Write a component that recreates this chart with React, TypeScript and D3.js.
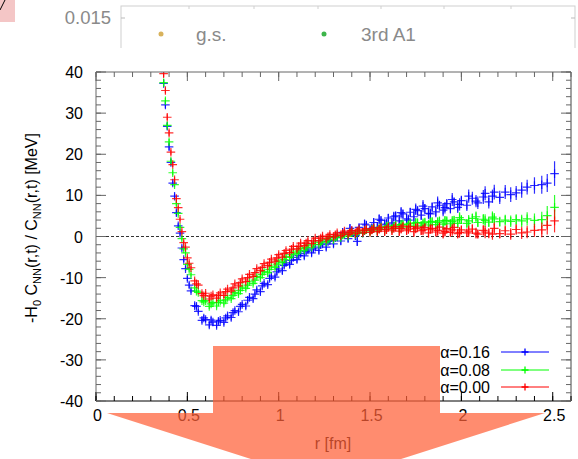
import React from "react";
import * as d3 from "d3";

const W = 578;
const H = 459;

// separation r [fm], first group of lattice points
const rValues = [
  0.36, 0.37, 0.38, 0.39, 0.40, 0.41, 0.42, 0.43, 0.44, 0.45,
  0.46, 0.47, 0.48, 0.49, 0.50, 0.52, 0.54, 0.56, 0.58, 0.60,
  0.62, 0.64, 0.66, 0.68, 0.70, 0.72, 0.74, 0.76, 0.78, 0.80,
  0.82, 0.84, 0.86, 0.88, 0.90, 0.92, 0.94, 0.96, 0.98, 1.00,
  1.02, 1.04, 1.06, 1.08, 1.10, 1.12, 1.14, 1.16, 1.18, 1.20,
  1.22, 1.24, 1.26, 1.28, 1.30, 1.32, 1.34, 1.36, 1.38, 1.40,
  1.42, 1.44, 1.46, 1.48, 1.50, 1.52, 1.54, 1.56, 1.58, 1.60,
  1.62, 1.64, 1.66, 1.68, 1.70, 1.72, 1.74, 1.76, 1.78, 1.80,
  1.82, 1.84, 1.86, 1.88, 1.90, 1.92, 1.94, 1.96, 1.98, 2.00,
  2.03, 2.06, 2.09, 2.12, 2.15, 2.18, 2.21, 2.24, 2.27, 2.30,
  2.33, 2.36, 2.40, 2.44, 2.47, 2.51,
];

// alpha = 0.16 (blue)
const alpha016 = [
  41.0, 37.2, 32.0, 26.8, 21.8, 18.0, 13.0, 9.8, 5.8, 2.6,
  0.8, -2.8, -5.6, -7.8, -10.2, -13.2, -16.8, -18.2, -20.4, -20.2,
  -21.5, -20.8, -21.6, -20.4, -20.9, -19.3, -19.7, -18.0, -18.3, -16.5,
  -16.9, -14.8, -15.1, -13.0, -13.4, -11.4, -11.7, -9.6, -9.9, -7.9,
  -8.3, -6.4, -6.8, -5.1, -5.6, -4.1, -4.7, -3.3, -4.0, -2.6,
  -3.4, -1.8, -2.6, -1.0, -1.8, -0.2, -1.1, 0.6, -0.5, 1.4,
  0.2, 2.2, 0.9, 2.8, 1.6, 3.4, 2.2, 3.9, 2.8, 4.5,
  3.3, 5.0, 3.8, 5.5, 4.3, 5.9, 4.8, 6.3, 5.2, 6.8,
  5.6, 7.2, 6.0, 7.6, 6.4, 8.0, 6.8, 8.4, 7.1, 8.7,
  7.6, 9.3, 8.2, 9.6, 8.4, 10.8, 9.5, 10.8, 10.2, 10.6,
  11.3, 12.0, 12.4, 12.6, 13.0, 15.3,
];
const alpha016Err = [
  0.9, 0.9, 0.8, 0.8, 0.8, 0.7, 0.7, 0.7, 0.7, 0.6,
  0.6, 0.6, 0.6, 0.6, 0.6, 0.6, 0.7, 0.6, 0.7, 0.6,
  0.7, 0.6, 0.7, 0.6, 0.7, 0.6, 0.7, 0.6, 0.7, 0.6,
  0.7, 0.6, 0.7, 0.6, 0.7, 0.6, 0.7, 0.6, 0.7, 0.7,
  0.8, 0.7, 0.8, 0.7, 0.8, 0.7, 0.8, 0.7, 0.8, 0.7,
  0.8, 0.7, 0.8, 0.7, 0.8, 0.8, 0.9, 0.8, 0.9, 0.8,
  1.0, 0.9, 1.1, 0.9, 1.0, 1.1, 1.3, 1.0, 1.4, 1.0,
  1.2, 1.1, 1.4, 1.0, 1.2, 1.1, 1.5, 1.0, 1.2, 1.1,
  1.4, 1.0, 1.3, 1.1, 1.5, 1.0, 1.2, 1.1, 1.4, 1.2,
  1.4, 1.6, 1.5, 1.7, 1.6, 1.8, 1.6, 1.7, 1.8, 1.7,
  1.9, 1.8, 2.0, 2.2, 2.2, 3.0,
];

// alpha = 0.08 (green)
const alpha008 = [
  42.0, 37.4, 33.0, 27.0, 23.0, 18.3, 15.5, 12.6, 8.0, 5.6,
  2.2, -0.5, -3.0, -4.0, -6.8, -9.3, -12.5, -13.6, -15.6, -15.6,
  -17.0, -16.1, -16.9, -15.6, -16.2, -14.8, -15.1, -13.6, -13.9, -12.3,
  -12.6, -11.0, -11.4, -9.7, -10.0, -8.5, -8.8, -7.2, -7.5, -6.0,
  -6.3, -4.9, -5.1, -3.8, -4.1, -2.9, -3.3, -2.1, -2.6, -1.4,
  -1.9, -0.8, -1.3, -0.3, -0.8, 0.1, -0.3, 0.6, 0.1, 1.0,
  0.5, 1.4, 0.8, 1.7, 1.1, 2.0, 1.4, 2.3, 1.7, 2.6,
  1.9, 2.8, 2.1, 3.0, 2.3, 3.2, 2.5, 3.4, 2.6, 3.5,
  2.8, 3.7, 2.9, 3.8, 3.0, 3.9, 3.1, 4.0, 3.2, 4.1,
  3.2, 4.4, 3.4, 4.2, 3.5, 4.3, 3.6, 4.0, 3.7, 4.1,
  3.8, 4.3, 3.9, 4.1, 5.1, 7.1,
];
const alpha008Err = [
  0.8, 0.8, 0.7, 0.7, 0.7, 0.6, 0.6, 0.6, 0.6, 0.5,
  0.5, 0.5, 0.5, 0.5, 0.5, 0.5, 0.6, 0.5, 0.6, 0.5,
  0.6, 0.5, 0.6, 0.5, 0.6, 0.5, 0.6, 0.5, 0.6, 0.5,
  0.6, 0.5, 0.6, 0.5, 0.6, 0.5, 0.6, 0.5, 0.6, 0.6,
  0.7, 0.6, 0.7, 0.6, 0.7, 0.6, 0.7, 0.6, 0.7, 0.6,
  0.7, 0.6, 0.7, 0.6, 0.7, 0.6, 0.7, 0.6, 0.7, 0.6,
  0.7, 0.6, 0.7, 0.6, 0.7, 0.8, 1.0, 0.8, 1.2, 0.8,
  1.0, 0.9, 1.2, 0.8, 1.0, 0.9, 1.3, 0.8, 1.0, 0.9,
  1.2, 0.8, 1.1, 0.9, 1.3, 0.8, 1.0, 0.9, 1.2, 1.0,
  1.0, 1.2, 1.1, 1.3, 1.2, 1.4, 1.2, 1.3, 1.4, 1.3,
  1.5, 1.6, 1.7, 1.9, 2.3, 3.0,
];

// alpha = 0.00 (red)
const alpha000 = [
  44.0, 39.6, 35.5, 29.0, 25.2, 20.5, 17.5, 13.8, 9.2, 7.0,
  4.2, 1.2, -1.5, -2.6, -5.2, -7.6, -10.8, -11.8, -13.9, -13.8,
  -15.2, -14.2, -15.0, -13.7, -14.3, -12.8, -13.2, -11.5, -12.0, -10.3,
  -10.9, -9.2, -9.7, -7.8, -8.3, -6.6, -7.1, -5.5, -6.0, -4.4,
  -5.0, -3.4, -3.9, -2.4, -3.0, -1.6, -2.2, -1.0, -1.7, -0.4,
  -1.0, 0.1, -0.6, 0.5, -0.1, 0.9, 0.2, 1.3, 0.5, 1.5,
  0.7, 1.8, 0.9, 1.9, 1.0, 2.1, 1.2, 2.2, 1.3, 2.3,
  1.4, 2.4, 1.3, 2.5, 1.4, 2.4, 1.2, 2.3, 1.4, 2.2,
  0.9, 2.0, 1.1, 2.3, 0.8, 1.9, 1.0, 2.2, 0.7, 1.6,
  0.9, 1.8, 0.6, 1.5, 0.8, 2.0, 0.7, 1.4, 0.6, 1.7,
  0.9, 1.1, 1.5, 1.6, 2.7, 3.8,
];
const alpha000Err = [
  0.8, 0.8, 0.7, 0.7, 0.7, 0.6, 0.6, 0.6, 0.6, 0.5,
  0.5, 0.5, 0.5, 0.5, 0.5, 0.5, 0.6, 0.5, 0.6, 0.5,
  0.6, 0.5, 0.6, 0.5, 0.6, 0.5, 0.6, 0.5, 0.6, 0.5,
  0.6, 0.5, 0.6, 0.5, 0.6, 0.5, 0.6, 0.5, 0.6, 0.6,
  0.7, 0.6, 0.7, 0.6, 0.7, 0.6, 0.7, 0.6, 0.7, 0.6,
  0.7, 0.6, 0.7, 0.6, 0.7, 0.6, 0.7, 0.6, 0.7, 0.6,
  0.7, 0.6, 0.7, 0.6, 0.7, 0.8, 1.0, 0.8, 1.2, 0.8,
  1.0, 0.9, 1.2, 0.8, 1.0, 0.9, 1.3, 0.8, 1.0, 0.9,
  1.2, 0.8, 1.1, 0.9, 1.3, 0.8, 1.0, 0.9, 1.2, 1.0,
  1.0, 1.2, 1.1, 1.3, 1.2, 1.4, 1.2, 1.3, 1.4, 1.3,
  1.5, 1.5, 1.6, 1.8, 2.2, 2.8,
];

// second group of lattice points (interleaved r)
const rValues2 = [
  0.51, 0.55, 0.59, 0.63, 0.67, 0.71, 0.75, 0.79, 0.83, 0.87,
  0.91, 0.95, 0.99, 1.03, 1.07, 1.11, 1.15, 1.19, 1.23, 1.27,
  1.31, 1.35, 1.39, 1.43, 1.47, 1.51, 1.55, 1.59, 1.63, 1.67,
  1.71, 1.75, 1.79, 1.83, 1.87, 1.91, 1.95, 1.99, 2.04, 2.08,
  2.13, 2.17,
];
const alpha016b = [
  -11.8, -17.0, -19.8, -20.3, -20.6, -19.8, -18.5, -17.0, -15.5, -14.0,
  -12.0, -10.2, -8.6, -7.0, -5.8, -4.6, -3.6, -3.0, -2.0, -1.2,
  -0.3, 1.0, 2.0, -1.2, 3.0, 2.0, 4.2, 3.0, 4.8, 5.8,
  4.0, 6.6, 7.4, 5.5, 8.2, 7.0, 9.0, 7.8, 9.8, 8.6,
  10.5, 9.8,
];
const alpha016bErr = [
  0.7, 0.7, 0.7, 0.7, 0.7, 0.7, 0.7, 0.7, 0.7, 0.7,
  0.7, 0.7, 0.8, 0.8, 0.8, 0.8, 0.8, 0.8, 0.9, 0.9,
  0.9, 1.0, 1.0, 1.1, 1.1, 1.2, 1.2, 1.3, 1.2, 1.4,
  1.3, 1.4, 1.5, 1.3, 1.5, 1.4, 1.6, 1.5, 1.6, 1.5,
  1.7, 1.6,
];
const alpha008b = [
  -8.0, -13.3, -15.9, -16.4, -16.0, -15.4, -14.3, -13.1, -11.8, -10.6,
  -9.2, -8.0, -6.7, -5.6, -4.4, -3.5, -2.7, -2.0, -1.4, -0.7,
  -0.2, 0.4, 0.9, 1.0, 1.4, 1.8, 1.9, 2.4, 2.5, 2.9,
  2.8, 3.3, 3.1, 3.5, 3.4, 3.8, 3.6, 4.6, 3.8, 4.8,
  3.9, 4.7,
];
const alpha008bErr = [
  0.6, 0.6, 0.6, 0.6, 0.6, 0.6, 0.6, 0.6, 0.6, 0.6,
  0.6, 0.6, 0.7, 0.7, 0.7, 0.7, 0.7, 0.7, 0.7, 0.7,
  0.8, 0.8, 0.8, 0.9, 0.9, 1.0, 1.0, 1.1, 1.0, 1.2,
  1.1, 1.2, 1.3, 1.1, 1.3, 1.2, 1.4, 1.3, 1.4, 1.3,
  1.5, 1.4,
];
const alpha000b = [
  -6.5, -11.5, -14.4, -14.5, -14.3, -13.4, -12.5, -11.2, -10.0, -8.8,
  -7.5, -6.3, -5.2, -4.1, -3.1, -2.4, -1.6, -1.1, -0.4, 0.0,
  0.4, 0.8, 1.0, 1.3, 1.5, 1.6, 1.8, 1.7, 2.0, 1.9,
  1.8, 2.0, 1.6, 1.8, 1.5, 1.2, 1.6, 1.0, 1.3, 0.8,
  1.1, 0.6,
];
const alpha000bErr = [
  0.6, 0.6, 0.6, 0.6, 0.6, 0.6, 0.6, 0.6, 0.6, 0.6,
  0.6, 0.6, 0.7, 0.7, 0.7, 0.7, 0.7, 0.7, 0.7, 0.7,
  0.8, 0.8, 0.8, 0.9, 0.9, 1.0, 1.0, 1.1, 1.0, 1.2,
  1.1, 1.2, 1.3, 1.1, 1.3, 1.2, 1.4, 1.3, 1.4, 1.3,
  1.5, 1.4,
];

const seriesLabels = ["α=0.16", "α=0.08", "α=0.00"];
const seriesColors = ["#0000ff", "#00ff00", "#ff0000"];

const xTicks = [0, 0.5, 1, 1.5, 2, 2.5];
const xTickLabels = ["0", "0.5", "1", "1.5", "2", "2.5"];
const yTicks = [-40, -30, -20, -10, 0, 10, 20, 30, 40];
const yTickLabels = ["-40", "-30", "-20", "-10", "0", "10", "20", "30", "40"];

// fragment of another panel at top
const topTickLabel = "0.015";
const topLegendLabels = ["g.s.", "3rd A1"];
const topLegendColors = ["#d8b25c", "#3cb54a"];

const FONT = "'Liberation Sans', Arial, Helvetica, sans-serif";

export default function App() {
  const L = 96, R = 571, T = 72, B = 401;
  const x = d3.scaleLinear().domain([0, 2.6]).range([L, R]);
  const y = d3.scaleLinear().domain([-40, 40]).range([B, T]);

  const series = [
    { groups: [
      { rs: rValues, vals: alpha016, errs: alpha016Err },
      { rs: rValues2, vals: alpha016b, errs: alpha016bErr },
    ] },
    { groups: [
      { rs: rValues, vals: alpha008, errs: alpha008Err },
      { rs: rValues2, vals: alpha008b, errs: alpha008bErr },
    ] },
    { groups: [
      { rs: rValues, vals: alpha000, errs: alpha000Err },
      { rs: rValues2, vals: alpha000b, errs: alpha000bErr },
    ] },
  ];

  const xMinor = d3.range(0, 2.61, 0.1);
  const yMinor = d3.range(-40, 40.01, 2);

  const plus = (px: number, py: number, s = 4) =>
    `M${px - s},${py}H${px + s}M${px},${py - s}V${py + s}`;

  const legendY = [352, 370, 387];

  const arrow = [
    [213, 346], [440, 346], [440, 413], [545, 413], [326, 483], [107, 413], [213, 413],
  ];

  return (
    <svg
      width={W}
      height={H}
      style={{ position: "absolute", left: 0, top: 0, background: "#fff" }}
      fontFamily={FONT}
    >
      <defs>
        <clipPath id="plotclip">
          <rect x={L} y={T} width={R - L} height={B - T} />
        </clipPath>
        <clipPath id="topclip">
          <rect x={0} y={0} width={W} height={48} />
        </clipPath>
      </defs>

      {/* top fragment */}
      <rect x={0} y={0} width={15} height={22} fill="#f4c6c6" />
      <line x1={0} y1={10} x2={5} y2={0} stroke="#000" strokeWidth={1} />
      <g clipPath="url(#topclip)">
        <rect x={121} y={6} width={454} height={60} fill="none" stroke="#cfcfcf" strokeWidth={1} />
        {[189, 254, 318, 381, 444, 511].map((tx) => (
          <line key={tx} x1={tx} y1={6} x2={tx} y2={9} stroke="#cfcfcf" />
        ))}
        <line x1={121} y1={18} x2={125} y2={18} stroke="#bbb" />
        <line x1={571} y1={18} x2={575} y2={18} stroke="#bbb" />
        <text x={111} y={24} textAnchor="end" fontSize={18.5} fill="#8a8a8a">
          {topTickLabel}
        </text>
        <circle cx={161} cy={34} r={2.5} fill={topLegendColors[0]} />
        <text x={196} y={41} fontSize={19} fill="#8a8a8a">
          {topLegendLabels[0]}
        </text>
        <circle cx={324} cy={34} r={2.5} fill={topLegendColors[1]} />
        <text x={361} y={41} fontSize={19} fill="#8a8a8a">
          {topLegendLabels[1]}
        </text>
      </g>

      {/* zero line */}
      <line x1={L} x2={R} y1={y(0)} y2={y(0)} stroke="#333" strokeDasharray="3,2" strokeWidth={1} />

      {/* data */}
      <g clipPath="url(#plotclip)">
        {series.map((s, si) => (
          <g key={si} stroke={seriesColors[si]} strokeWidth={1.2} strokeOpacity={0.82} fill="none">
            {s.groups.map((g, gi) =>
              g.rs.map((r, i) => {
                const px = x(r);
                const py = y(g.vals[i]);
                const e = g.errs[i];
                return (
                  <g key={gi + "-" + i}>
                    <line x1={px} x2={px} y1={y(g.vals[i] - e)} y2={y(g.vals[i] + e)} />
                    <path d={plus(px, py, 4.3)} />
                  </g>
                );
              })
            )}
          </g>
        ))}
      </g>

      {/* frame */}
      <line x1={L} x2={R} y1={T} y2={T} stroke="#666" />
      <line x1={L} x2={L} y1={T} y2={B} stroke="#666" />
      <line x1={R} x2={R} y1={T} y2={B} stroke="#444" />
      <line x1={L} x2={R} y1={B} y2={B} stroke="#000" />

      {/* x ticks */}
      {xMinor.map((t, i) => (
        <g key={"xm" + i}>
          <line x1={x(t)} x2={x(t)} y1={B} y2={B - 5} stroke="#000" />
          <line x1={x(t)} x2={x(t)} y1={T} y2={T + 5} stroke="#666" />
        </g>
      ))}
      {xTicks.map((t, i) => (
        <g key={"xM" + i}>
          <line x1={x(t)} x2={x(t)} y1={B} y2={B - 9} stroke="#000" />
          <line x1={x(t)} x2={x(t)} y1={T} y2={T + 9} stroke="#666" />
          <text x={x(t) + 1.5} y={421} textAnchor="middle" fontSize={16} fill="#000">
            {xTickLabels[i]}
          </text>
        </g>
      ))}

      {/* y ticks */}
      {yMinor.map((t, i) => (
        <g key={"ym" + i}>
          <line x1={L} x2={L + 5} y1={y(t)} y2={y(t)} stroke="#666" />
          <line x1={R} x2={R - 5} y1={y(t)} y2={y(t)} stroke="#666" />
        </g>
      ))}
      {yTicks.map((t, i) => (
        <g key={"yM" + i}>
          <line x1={L} x2={L + 10} y1={y(t)} y2={y(t)} stroke="#666" />
          <line x1={R} x2={R - 10} y1={y(t)} y2={y(t)} stroke="#666" />
          <text x={83} y={y(t) + 6} textAnchor="end" fontSize={16} fill="#000">
            {yTickLabels[i]}
          </text>
        </g>
      ))}

      {/* axis labels */}
      <text x={333} y={449} textAnchor="middle" fontSize={16} fill="#000">
        r [fm]
      </text>
      <text transform="translate(37,228) rotate(-90)" textAnchor="middle" fontSize={16} fill="#000">
        -H<tspan dy={4} fontSize={11}>0</tspan>
        <tspan dy={-4}> C</tspan>
        <tspan dy={4} fontSize={11}>NN</tspan>
        <tspan dy={-4}>(r,t) / C</tspan>
        <tspan dy={4} fontSize={11}>NN</tspan>
        <tspan dy={-4}>(r,t) [MeV]</tspan>
      </text>

      {/* legend */}
      {seriesLabels.map((lab, i) => (
        <g key={"lg" + i}>
          <text x={490} y={legendY[i] + 6} textAnchor="end" fontSize={16} fill="#000">
            {lab}
          </text>
          <line x1={501} x2={549} y1={legendY[i]} y2={legendY[i]} stroke={seriesColors[i]} strokeWidth={1} />
          <path d={plus(525, legendY[i], 3.5)} stroke={seriesColors[i]} strokeWidth={1.3} />
        </g>
      ))}

      {/* overlay arrow */}
      <polygon
        points={arrow.map((p) => p.join(",")).join(" ")}
        fill="rgb(255,96,56)"
        fillOpacity={0.72}
      />
    </svg>
  );
}
